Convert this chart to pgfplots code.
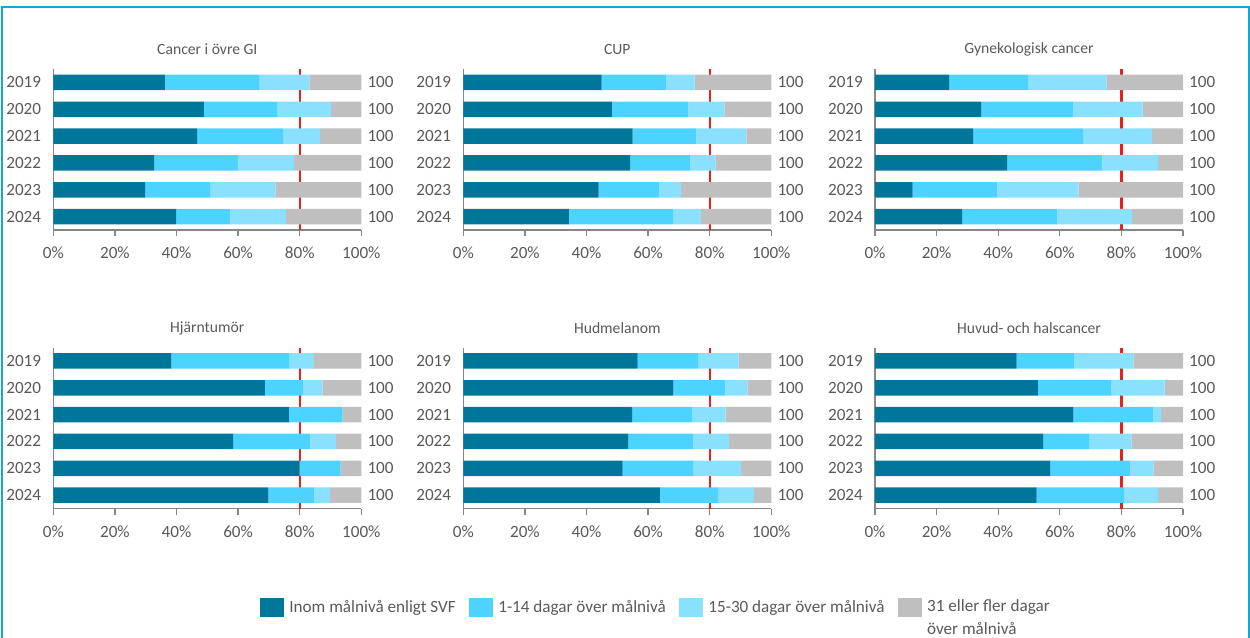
\documentclass[border=0pt]{standalone}
\usepackage{pgfplots}
\pgfplotsset{compat=1.18}
\usepackage{pgfplotstable}
\usepackage{fontspec}
\setmainfont{Carlito}

\definecolor{svfdark}{RGB}{0,119,154}
\definecolor{svfmid}{RGB}{76,211,255}
\definecolor{svflight}{RGB}{137,225,255}
\definecolor{svfgray}{RGB}{191,191,191}
\definecolor{textgray}{RGB}{89,89,89}
\definecolor{axisgray}{RGB}{134,134,134}
\definecolor{frameblue}{RGB}{22,166,214}
\definecolor{goalred}{RGB}{232,33,28}

\newcommand{\ticksize}{\fontsize{9.75}{11}\selectfont}
\newcommand{\titlesize}{\fontsize{8.9}{10}\selectfont}

% year, inom, 1-14, 15-30, 31+
\pgfplotstableread{
year a b c d
2019 36.2 30.6 16.3 16.9
2020 48.9 23.9 17.4 9.8
2021 46.7 27.9 12.0 13.4
2022 32.8 27.1 18.2 21.9
2023 29.8 21.3 21.0 27.9
2024 39.9 17.6 18.1 24.4
}\gi
\pgfplotstableread{
year a b c d
2019 44.9 21.0 9.2 24.9
2020 48.2 24.9 11.7 15.2
2021 55.0 20.7 16.2 8.1
2022 54.2 19.5 8.1 18.2
2023 43.9 19.6 7.2 29.3
2024 34.3 33.8 9.0 22.9
}\cup
\pgfplotstableread{
year a b c d
2019 24.1 25.6 25.4 24.9
2020 34.5 29.9 22.5 13.1
2021 31.9 35.7 22.4 10.0
2022 42.9 30.9 18.1 8.1
2023 12.2 27.5 26.3 34.0
2024 28.3 30.9 24.2 16.6
}\gyn
\pgfplotstableread{
year a b c d
2019 38.3 38.4 7.9 15.4
2020 68.7 12.5 6.2 12.6
2021 76.5 17.4 0.0 6.1
2022 58.4 24.9 8.5 8.2
2023 79.9 13.4 0.0 6.7
2024 69.8 15.0 5.1 10.1
}\hjarn
\pgfplotstableread{
year a b c d
2019 56.6 19.6 13.2 10.6
2020 68.2 16.9 7.1 7.8
2021 54.8 19.4 11.0 14.8
2022 53.5 21.0 11.8 13.7
2023 51.7 23.1 15.3 9.9
2024 63.8 19.1 11.4 5.7
}\hud
\pgfplotstableread{
year a b c d
2019 46.0 18.7 19.2 16.1
2020 52.9 23.7 17.4 6.0
2021 64.4 26.0 2.5 7.1
2022 54.6 15.1 13.5 16.8
2023 56.9 26.0 7.5 9.6
2024 52.5 28.4 11.0 8.1
}\huvud

\pgfplotsset{
  frame/.style={
    scale only axis, width=61.6mm, height=32.2mm,
    xmin=0, xmax=100, ymin=2018.5, ymax=2024.5, y dir=reverse,
    ytick={2019,2020,2021,2022,2023,2024},
    y tick style={draw=none},
    ticklabel style={font=\ticksize, text=textgray},
  },
  panel/.style={
    frame, xbar stacked, bar width=3.1mm,
    yticklabels={2019,2020,2021,2022,2023,2024},
    xtick={0,20,40,60,80,100},
    xticklabel={\pgfmathprintnumber{\tick}\%},
    /pgf/number format/assume math mode=true,
    axis x line*=bottom, axis y line*=left,
    axis line style={draw=axisgray, line width=0.7pt, -},
    tick align=outside, major tick length=1.2mm,
    x tick style={draw=axisgray, line width=0.7pt},
    xticklabel style={yshift=-1mm},
    title style={font=\titlesize, text=textgray, at={(0.5,1)}, anchor=center, yshift=1.8mm},
  },
  totals/.style={
    frame, hide x axis, axis y line*=right,
    y axis line style={draw=none},
    yticklabels={100,100,100,100,100,100},
  },
  seg/.style={fill=#1, draw=none},
}

\newcommand{\goal}{\draw[goalred, line width=0.45mm] (80,2018.5) -- (80,2024.5);}
% antal (100) to the right of each panel
\newcommand{\totals}[1]{\begin{axis}[totals, at={#1}]\end{axis}}

\begin{document}
\begin{tikzpicture}
\useasboundingbox (0,0) rectangle (250mm,-127.6mm);
\draw[frameblue, line width=0.45mm] (0.45mm,-127.8mm) -- (0.45mm,-1.45mm) -- (249.75mm,-1.45mm) -- (249.75mm,-127.8mm);

\begin{axis}[panel, at={(10.66mm,-46mm)}, title={Cancer i övre GI}]
\addplot[seg=svfdark] table[x=a,y=year] {\gi};
\addplot[seg=svfmid] table[x=b,y=year] {\gi};
\addplot[seg=svflight] table[x=c,y=year] {\gi};
\addplot[seg=svfgray] table[x=d,y=year] {\gi};
\goal
\end{axis}
\totals{(10.66mm,-46mm)}

\begin{axis}[panel, at={(92.66mm,-46mm)}, title={CUP}]
\addplot[seg=svfdark] table[x=a,y=year] {\cup};
\addplot[seg=svfmid] table[x=b,y=year] {\cup};
\addplot[seg=svflight] table[x=c,y=year] {\cup};
\addplot[seg=svfgray] table[x=d,y=year] {\cup};
\goal
\end{axis}
\totals{(92.66mm,-46mm)}

\begin{axis}[panel, at={(175mm,-46mm)}, title={Gynekologisk cancer}]
\addplot[seg=svfdark] table[x=a,y=year] {\gyn};
\addplot[seg=svfmid] table[x=b,y=year] {\gyn};
\addplot[seg=svflight] table[x=c,y=year] {\gyn};
\addplot[seg=svfgray] table[x=d,y=year] {\gyn};
\goal
\end{axis}
\totals{(175mm,-46mm)}

\begin{axis}[panel, at={(10.66mm,-101.7mm)}, title={Hjärntumör}]
\addplot[seg=svfdark] table[x=a,y=year] {\hjarn};
\addplot[seg=svfmid] table[x=b,y=year] {\hjarn};
\addplot[seg=svflight] table[x=c,y=year] {\hjarn};
\addplot[seg=svfgray] table[x=d,y=year] {\hjarn};
\goal
\end{axis}
\totals{(10.66mm,-101.7mm)}

\begin{axis}[panel, at={(92.66mm,-101.7mm)}, title={Hudmelanom},
  legend columns=4,
  legend style={at={(-0.66,-0.544)}, anchor=north west, draw=none, fill=none,
    font=\ticksize, text=textgray, inner sep=0pt,
    /tikz/every odd column/.append style={column sep=0.3mm},
    /tikz/every even column/.append style={column sep=2mm}},
  legend cell align=left,
  legend image code/.code={\fill[#1] (0mm,-1.85mm) rectangle (4.8mm,1.85mm);}]
\addplot[seg=svfdark] table[x=a,y=year] {\hud};
\addlegendentry{Inom målnivå enligt SVF}
\addplot[seg=svfmid] table[x=b,y=year] {\hud};
\addlegendentry{1-14 dagar över målnivå}
\addplot[seg=svflight] table[x=c,y=year] {\hud};
\addlegendentry{15-30 dagar över målnivå}
\addplot[seg=svfgray] table[x=d,y=year] {\hud};
\addlegendentry{\makebox[0pt][l]{\raisebox{-1.32em}[0pt][0pt]{över målnivå}}31 eller fler dagar}
\goal
\end{axis}
\totals{(92.66mm,-101.7mm)}

\begin{axis}[panel, at={(175mm,-101.7mm)}, title={Huvud- och halscancer}]
\addplot[seg=svfdark] table[x=a,y=year] {\huvud};
\addplot[seg=svfmid] table[x=b,y=year] {\huvud};
\addplot[seg=svflight] table[x=c,y=year] {\huvud};
\addplot[seg=svfgray] table[x=d,y=year] {\huvud};
\goal
\end{axis}
\totals{(175mm,-101.7mm)}
\end{tikzpicture}
\end{document}
